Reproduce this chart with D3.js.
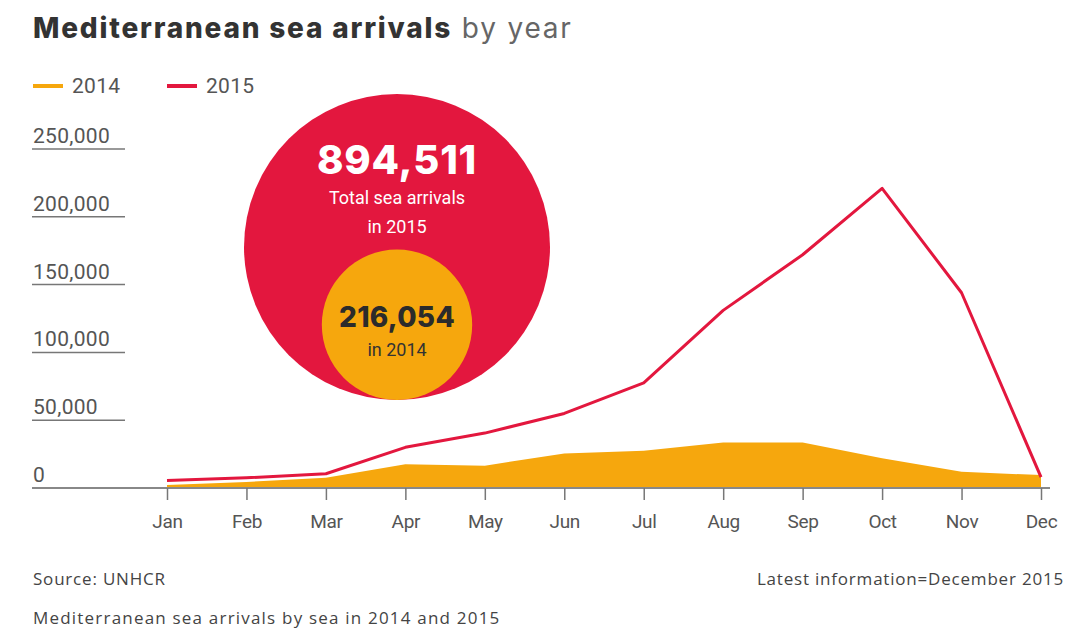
<html lang="en">
  <head>
    <meta charset="utf-8">
    <title>Mediterranean sea arrivals by year</title>
    <script src="https://d3js.org/d3.v7.min.js"></script>
    <style>
      body { margin: 0; background: #fff; }
    </style>
  </head>
  <body>
    <div id="viz"></div>
    <script type="text/javascript">
    // chart data
    var months = ["Jan", "Feb", "Mar", "Apr", "May", "Jun", "Jul", "Aug", "Sep", "Oct", "Nov", "Dec"];
    var arrivals2014 = [2200, 4500, 7500, 17500, 16500, 25500, 27500, 33500, 33500, 22000, 12000, 9500];
    var arrivals2015 = [5500, 7500, 10500, 30000, 40500, 55000, 77500, 131000, 172000, 221000, 144000, 8000];
    var yTicks = [0, 50000, 100000, 150000, 200000, 250000];
    var totals = [216054, 894511];

    var w = 1081, h = 630;
    var red = "#e3173e", orange = "#f6a70d";
    var fontMain = "Roboto, 'Liberation Sans', sans-serif";
    var fontHead = "Inter, 'Open Sans', sans-serif";
    var fontFoot = "'Open Sans', sans-serif";

    var svg = d3.select("#viz")
      .append("svg")
      .attr("width", w)
      .attr("height", h);

    // scales
    var x = d3.scaleLinear()
      .domain([0, months.length - 1])
      .range([167, 1041]);
    var y = d3.scaleLinear()
      .domain([0, 250000])
      .range([488, 149]);

    // title
    var title = svg.append("text")
      .attr("x", 33)
      .attr("y", 38)
      .attr("font-family", fontHead)
      .attr("font-size", 28)
      .attr("letter-spacing", 1.8)
      .attr("fill", "#333");
    title.append("tspan").attr("font-weight", 800).text("Mediterranean sea arrivals");
    title.append("tspan").attr("font-weight", 400).attr("fill", "#666").text(" by year");

    // legend
    var legend = [{label: "2014", color: orange, x: 33}, {label: "2015", color: red, x: 167}];
    legend.forEach(function(d) {
      svg.append("line")
        .attr("x1", d.x).attr("x2", d.x + 30)
        .attr("y1", 86).attr("y2", 86)
        .attr("stroke", d.color)
        .attr("stroke-width", 4);
      svg.append("text")
        .attr("x", d.x + 39)
        .attr("y", 93)
        .attr("font-family", fontMain)
        .attr("font-size", 21)
        .attr("letter-spacing", 0.3)
        .attr("fill", "#555")
        .text(d.label);
    });

    // y axis: short rules with labels above
    var yg = svg.append("g");
    yg.selectAll("line")
      .data(yTicks.filter(function(d) { return d > 0; }))
      .enter()
      .append("line")
      .attr("x1", 32).attr("x2", 125)
      .attr("y1", function(d) { return y(d); })
      .attr("y2", function(d) { return y(d); })
      .attr("stroke", "#777")
      .attr("stroke-width", 1.5);
    yg.selectAll("text")
      .data(yTicks)
      .enter()
      .append("text")
      .attr("x", 33)
      .attr("y", function(d) { return y(d) - 6; })
      .attr("font-family", fontMain)
      .attr("font-size", 21)
      .attr("letter-spacing", 0.3)
      .attr("fill", "#555")
      .text(function(d) { return d3.format(",")(d); });

    // 2014 area
    var area = d3.area()
      .x(function(d, i) { return x(i); })
      .y0(y(0))
      .y1(function(d) { return y(d); });
    svg.append("path")
      .datum(arrivals2014)
      .attr("d", area)
      .attr("fill", orange);

    // baseline and month ticks
    svg.append("line")
      .attr("x1", 32).attr("x2", 1050)
      .attr("y1", y(0)).attr("y2", y(0))
      .attr("stroke", "#888")
      .attr("stroke-width", 2);

    var xAxis = d3.axisBottom(x)
      .tickValues(d3.range(months.length))
      .tickFormat(function(i) { return months[i]; })
      .tickSize(12)
      .tickPadding(15);
    var xg = svg.append("g")
      .attr("transform", "translate(0," + y(0) + ")")
      .call(xAxis);
    xg.select(".domain").remove();
    xg.selectAll(".tick line").attr("stroke", "#777").attr("stroke-width", 1.5);
    xg.selectAll(".tick text")
      .attr("font-family", fontMain)
      .attr("font-size", 19)
      .attr("letter-spacing", -0.3)
      .attr("fill", "#555");

    // 2015 line
    var line = d3.line()
      .x(function(d, i) { return x(i); })
      .y(function(d) { return y(d); });
    svg.append("path")
      .datum(arrivals2015)
      .attr("d", line)
      .attr("fill", "none")
      .attr("stroke", red)
      .attr("stroke-width", 3)
      .attr("stroke-linejoin", "round");

    // bubbles: area proportional to totals, sharing a bottom point
    var r = d3.scaleSqrt().domain([0, totals[1]]).range([0, 153]);
    var cx = 397, bottom = 400;
    var rBig = r(totals[1]), rSmall = r(totals[0]);
    svg.append("circle")
      .attr("cx", cx).attr("cy", bottom - rBig).attr("r", rBig)
      .attr("fill", red);
    svg.append("circle")
      .attr("cx", cx).attr("cy", bottom - rSmall).attr("r", rSmall)
      .attr("fill", orange);

    svg.append("text")
      .attr("x", cx).attr("y", 174)
      .attr("text-anchor", "middle")
      .attr("font-family", fontHead)
      .attr("font-weight", 800)
      .attr("font-size", 40)
      .attr("letter-spacing", 0.8)
      .attr("fill", "#fff")
      .text(d3.format(",")(totals[1]));
    svg.append("text")
      .attr("x", cx).attr("y", 204)
      .attr("text-anchor", "middle")
      .attr("font-family", fontMain)
      .attr("font-size", 18)
      .attr("fill", "#fff")
      .text("Total sea arrivals");
    svg.append("text")
      .attr("x", cx).attr("y", 233)
      .attr("text-anchor", "middle")
      .attr("font-family", fontMain)
      .attr("font-size", 18)
      .attr("fill", "#fff")
      .text("in 2015");
    svg.append("text")
      .attr("x", cx).attr("y", 327)
      .attr("text-anchor", "middle")
      .attr("font-family", fontHead)
      .attr("font-weight", 800)
      .attr("font-size", 28)
      .attr("letter-spacing", 0.3)
      .attr("fill", "#2b2b2b")
      .text(d3.format(",")(totals[0]));
    svg.append("text")
      .attr("x", cx).attr("y", 356)
      .attr("text-anchor", "middle")
      .attr("font-family", fontMain)
      .attr("font-size", 18)
      .attr("fill", "#333")
      .text("in 2014");

    // footer
    svg.append("text")
      .attr("x", 33).attr("y", 585)
      .attr("font-family", fontFoot)
      .attr("font-size", 17)
      .attr("letter-spacing", 0.8)
      .attr("fill", "#444")
      .text("Source: UNHCR");
    svg.append("text")
      .attr("x", 1064).attr("y", 585)
      .attr("text-anchor", "end")
      .attr("font-family", fontFoot)
      .attr("font-size", 17)
      .attr("letter-spacing", 0.8)
      .attr("fill", "#444")
      .text("Latest information=December 2015");
    svg.append("text")
      .attr("x", 33).attr("y", 624)
      .attr("font-family", fontFoot)
      .attr("font-size", 17)
      .attr("letter-spacing", 1.2)
      .attr("fill", "#444")
      .text("Mediterranean sea arrivals by sea in 2014 and 2015");
    </script>
  </body>
</html>
